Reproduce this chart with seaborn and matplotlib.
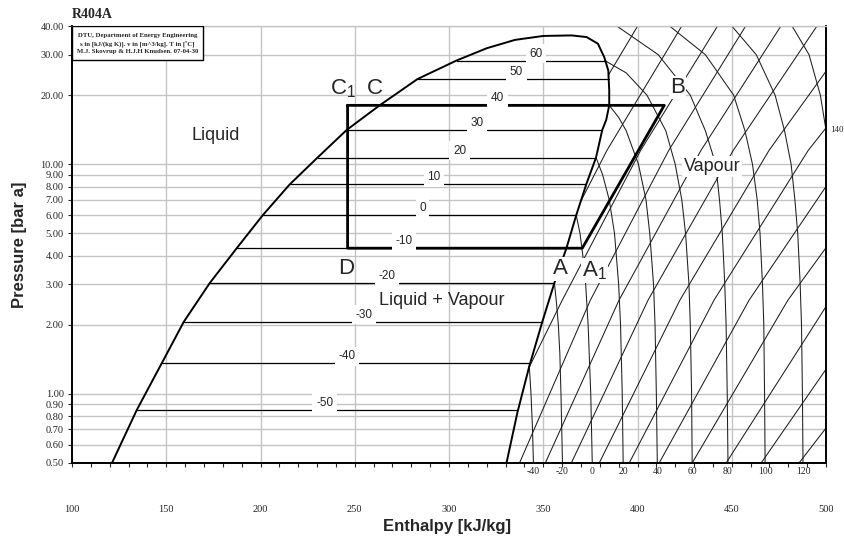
import numpy as np
import pandas as pd
import matplotlib
matplotlib.use("Agg")
import matplotlib.pyplot as plt
import seaborn as sns
from matplotlib.ticker import FixedLocator, NullLocator, FixedFormatter
from matplotlib.transforms import blended_transform_factory
from matplotlib.patches import Rectangle

sns.set_style("ticks")
plt.rcParams['font.family'] = ['Liberation Sans', 'DejaVu Sans']
plt.rcParams['mathtext.default'] = 'regular'

# ---------------- data ----------------
# saturation dome (liquid line -> critical region -> vapour line), (h kJ/kg, p bar)
dome_h = [121.2, 134.4, 147.7, 159.3, 173.1, 187.4, 201.2, 215.5, 230.3, 245.7, 263.2,
          283.3, 304.0, 320.0, 335.0, 350.0, 365.0, 373.0, 379.0, 382.4, 384.5, 385.0,
          385.0, 383.4, 381.3, 378.0, 372.8, 367.5, 362.3, 355.9, 349.5, 342.6, 336.3, 330.5]
dome_p = [0.5, 0.852, 1.364, 2.06, 3.04, 4.31, 6.0, 8.17, 10.7, 14.1, 18.05,
          23.5, 28.3, 32.0, 34.8, 36.2, 36.4, 35.8, 33.5, 29.2, 25.6, 21.0,
          18.05, 15.6, 14.1, 10.7, 8.17, 6.0, 4.31, 3.04, 2.06, 1.32, 0.83, 0.5]

# two-phase isotherms
tp_T = [-50, -40, -30, -20, -10, 0, 10, 20, 30, 40, 50, 60]
tp_p = [0.852, 1.36, 2.06, 3.04, 4.31, 6.0, 8.17, 10.7, 14.1, 18.05, 23.5, 28.3]
tp_h_liq = [134.4, 147.7, 159.3, 173.1, 187.4, 201.2, 215.5, 230.3, 245.7, 263.2, 283.3, 304.0]
tp_h_vap = [336.3, 342.6, 349.5, 355.9, 362.3, 367.5, 372.8, 378.0, 381.3, 385.0, 384.8, 382.6]
tp_label_h = [234.0, 246.0, 255.0, 267.0, 276.0, 286.0, 292.0, 305.6, 315.0, 325.7, 335.8, 346.0]

# superheated-vapour isotherms, (h, p) points
iso_m40 = [(342.6, 1.32), (343.5, 1.0), (344.3, 0.7), (344.8, 0.5)]
iso_m20 = [(355.9, 3.04), (357.0, 2.5), (358.0, 2.0), (358.8, 1.5), (359.4, 1.0), (360.2, 0.5)]
iso_0 = [(367.5, 6.0), (369.5, 5.0), (371.0, 4.0), (372.5, 3.0), (373.8, 2.0), (375.2, 1.0), (376.0, 0.5)]
iso_20 = [(378.0, 10.7), (381.5, 9.0), (385.0, 7.0), (387.8, 5.0), (390.0, 3.0), (391.0, 2.0),
          (391.9, 1.0), (392.4, 0.5)]
iso_40 = [(385.0, 18.05), (390.0, 16.0), (394.0, 14.0), (400.5, 10.0), (404.5, 7.0), (406.5, 5.0),
          (408.5, 3.0), (409.3, 2.0), (410.0, 1.0), (410.5, 0.5)]
iso_60 = [(382.6, 28.3), (394.0, 25.0), (405.0, 20.0), (415.0, 14.0), (420.0, 10.0), (423.5, 7.0),
          (425.5, 5.0), (427.3, 3.0), (428.0, 2.0), (428.7, 1.0), (429.0, 0.5)]
iso_80 = [(389.0, 40), (411.0, 30), (428.0, 20), (436.0, 14), (441.5, 10), (443.5, 7), (445.0, 5),
          (446.3, 3), (447.0, 2), (447.6, 1), (448.0, 0.5)]
iso_100 = [(417.0, 40), (436.0, 30), (451.0, 20), (457.0, 14), (461.0, 10), (463.5, 7), (465.0, 5),
           (466.3, 3), (467.0, 2), (467.4, 1), (467.7, 0.5)]
iso_120 = [(450.0, 40), (463.0, 30), (473.0, 20), (478.0, 14), (481.5, 10), (483.5, 7), (485.0, 5),
           (486.3, 3), (487.0, 2), (487.5, 1), (487.8, 0.5)]
iso_140 = [(482.0, 40), (491.0, 30), (497.0, 20), (500.0, 14.1)]
vap_iso_T = [-40, -20, 0, 20, 40, 60, 80, 100, 120]

# isentropes, (h, p) points
isen_m2 = [(384.5, 24.4), (400.1, 40)]
isen_m1 = [(370.2, 6.97), (383.8, 11.5), (423.5, 40)]
isen_0 = [(342.4, 1.30), (360.1, 2.56), (401.7, 11.5), (442.5, 40)]
isen_1 = [(337.4, 0.5), (375.0, 2.56), (416.6, 11.5), (457.4, 40)]
isen_2 = [(351.1, 0.5), (390.2, 2.56), (433.7, 11.5), (476.1, 40)]
isen_3 = [(364.9, 0.5), (405.6, 2.56), (450.8, 11.5), (495.2, 40)]
isen_4 = [(379.7, 0.5), (422.5, 2.56), (469.8, 11.5), (500.0, 25.4)]
isen_5 = [(395.6, 0.5), (440.6, 2.56), (490.6, 11.5), (500.0, 14.4)]
isen_6 = [(411.5, 0.5), (459.2, 2.56), (500.0, 8.0)]
isen_7 = [(429.0, 0.5), (479.8, 2.56), (500.0, 4.33)]
isen_8 = [(447.0, 0.5), (500.0, 2.40)]
isen_9 = [(465.6, 0.5), (500.0, 1.28)]
isen_10 = [(485.7, 0.5), (500.0, 0.71)]

# refrigeration cycle C1 -> B -> A1 -> D -> C1
cycle_h = [246.2, 414.2, 370.7, 246.2, 246.2]
cycle_p = [18.05, 18.05, 4.31, 4.31, 18.05]

y_ticks = [0.5, 0.6, 0.7, 0.8, 0.9, 1, 2, 3, 4, 5, 6, 7, 8, 9, 10, 20, 30, 40]
x_ticks = [100, 150, 200, 250, 300, 350, 400, 450, 500]

# ---------------- figure ----------------
fig = plt.figure(figsize=(8.44, 5.39), dpi=100)
ax = fig.add_axes([72 / 844, 76 / 539, 754 / 844, 437 / 539])
ax.set_yscale('log')
ax.set_xlim(100, 500)
ax.set_ylim(0.5, 40)

grid_c = '#c4c4c4'
for yt in y_ticks:
    ax.axhline(yt, color=grid_c, lw=1.0, zorder=0)
for xt in x_ticks[1:-1]:
    ax.axvline(xt, color=grid_c, lw=1.0, zorder=0)

mesh_c = '#1e1e1e'
# vapour isotherms
iso_curves = [iso_m40, iso_m20, iso_0, iso_20, iso_40, iso_60, iso_80, iso_100, iso_120, iso_140]
rows = []
for i, c in enumerate(iso_curves):
    for h, p in c:
        rows.append((h, p, i))
df_iso = pd.DataFrame(rows, columns=['h', 'p', 'curve'])
sns.lineplot(data=df_iso, x='h', y='p', units='curve', estimator=None, sort=False,
             color=mesh_c, lw=0.75, ax=ax, legend=False, zorder=2)

# isentropes
isen_curves = [isen_m2, isen_m1, isen_0, isen_1, isen_2, isen_3, isen_4, isen_5,
               isen_6, isen_7, isen_8, isen_9, isen_10]
rows = []
for i, c in enumerate(isen_curves):
    for h, p in c:
        rows.append((h, p, i))
df_isen = pd.DataFrame(rows, columns=['h', 'p', 'curve'])
sns.lineplot(data=df_isen, x='h', y='p', units='curve', estimator=None, sort=False,
             color=mesh_c, lw=0.75, ax=ax, legend=False, zorder=2)

# two-phase isotherms
rows = []
for i in range(len(tp_T)):
    rows.append((tp_h_liq[i], tp_p[i], i))
    rows.append((tp_h_vap[i], tp_p[i], i))
df_tp = pd.DataFrame(rows, columns=['h', 'p', 'curve'])
sns.lineplot(data=df_tp, x='h', y='p', units='curve', estimator=None, sort=False,
             color='black', lw=0.9, ax=ax, legend=False, zorder=3)

# saturation dome
sns.lineplot(x=dome_h, y=dome_p, sort=False, estimator=None, color='black', lw=1.4, ax=ax, zorder=4)

# cycle
sns.lineplot(x=cycle_h, y=cycle_p, sort=False, estimator=None, color='black', lw=2.0, ax=ax, zorder=5)

# two-phase labels
for T, p, h in zip(tp_T, tp_p, tp_label_h):
    ax.annotate(str(T), (h, p), xytext=(0, 5), textcoords='offset points', ha='center', va='center',
                fontsize=8.5, zorder=6,
                bbox=dict(boxstyle='square,pad=0.3', fc='white', ec='none'))

# vapour isotherm labels at bottom
trans = blended_transform_factory(ax.transData, ax.transAxes)
for T, c in zip(vap_iso_T, iso_curves):
    ax.text(c[-1][0], -0.019, str(T), transform=trans, ha='center', va='center',
            fontsize=7, family='Liberation Serif', clip_on=False)
ax.annotate('140', (500, 14.1), xytext=(3, 0), textcoords='offset points', ha='left', va='center',
            fontsize=6.5, family='Liberation Serif', annotation_clip=False)

# region and state labels
big = dict(fontsize=16, ha='center', va='center', zorder=7)
ax.text(244.0, 21.4, 'C$_1$', **big)
ax.text(260.5, 21.4, 'C', **big)
ax.text(421.1, 21.6, 'B', bbox=dict(boxstyle='square,pad=0.05', fc='white', ec='none'), **big)
ax.text(245.7, 3.50, 'D', **big)
ax.text(359.1, 3.50, 'A', bbox=dict(boxstyle='square,pad=0.05', fc='white', ec='none'), **big)
ax.text(377.0, 3.44, 'A$_1$', bbox=dict(boxstyle='square,pad=0.05', fc='white', ec='none'), **big)
ax.text(176.3, 13.37, 'Liquid', fontsize=13, ha='center', va='center', zorder=7)
ax.text(439.6, 9.8, 'Vapour', fontsize=13, ha='center', va='center', zorder=7,
        bbox=dict(boxstyle='square,pad=0.1', fc='white', ec='none'))
ax.text(296.0, 2.56, 'Liquid + Vapour', fontsize=13, ha='center', va='center', zorder=7)

# info box
ax.add_patch(Rectangle((0, 1 - 34 / 437), 131 / 754, 34 / 437, transform=ax.transAxes,
                       fc='white', ec='black', lw=1.0, zorder=8))
info = ['DTU, Department of Energy Engineering',
        's in [kJ/(kg K)]. v in [m^3/kg]. T in [\u00baC]',
        'M.J. Skovrup & H.J.H Knudsen. 07-04-30']
for k, line in enumerate(info):
    ax.text(65.5 / 754, 1 - (9 + 8.5 * k) / 437, line, transform=ax.transAxes, ha='center', va='center',
            fontsize=4.9, family='Liberation Serif', fontweight='bold', zorder=9)

fig.text(72 / 844, 1 - 14 / 539, 'R404A', ha='left', va='center', fontsize=10,
         family='Liberation Serif', fontweight='bold')

# axes styling
ax.yaxis.set_major_locator(FixedLocator(y_ticks))
ax.yaxis.set_minor_locator(NullLocator())
ax.yaxis.set_major_formatter(FixedFormatter(['%.2f' % v for v in y_ticks]))
ax.xaxis.set_major_locator(FixedLocator(x_ticks))
ax.xaxis.set_minor_locator(FixedLocator(list(range(110, 500, 10))))
ax.tick_params(axis='y', which='major', length=3, width=0.8, pad=3, labelsize=7.5)
ax.tick_params(axis='x', which='major', length=3, width=0.8, pad=27, labelsize=7.5)
ax.tick_params(axis='x', which='minor', length=3, width=0.8)
for lab in ax.get_xticklabels() + ax.get_yticklabels():
    lab.set_family('Liberation Serif')
for s in ['left', 'bottom', 'right']:
    ax.spines[s].set_color('black')
    ax.spines[s].set_linewidth(1.4)
ax.spines['top'].set_color(grid_c)
ax.spines['top'].set_linewidth(1.0)

ax.set_xlabel('Enthalpy [kJ/kg]', fontsize=12, fontweight='bold')
ax.set_ylabel('Pressure [bar a]', fontsize=12, fontweight='bold')
ax.xaxis.set_label_coords(0.497, -(519 - 463) / 437)
ax.yaxis.set_label_coords(-(72 - 27) / 754, 0.5)

fig.savefig('out.png', dpi=100)
